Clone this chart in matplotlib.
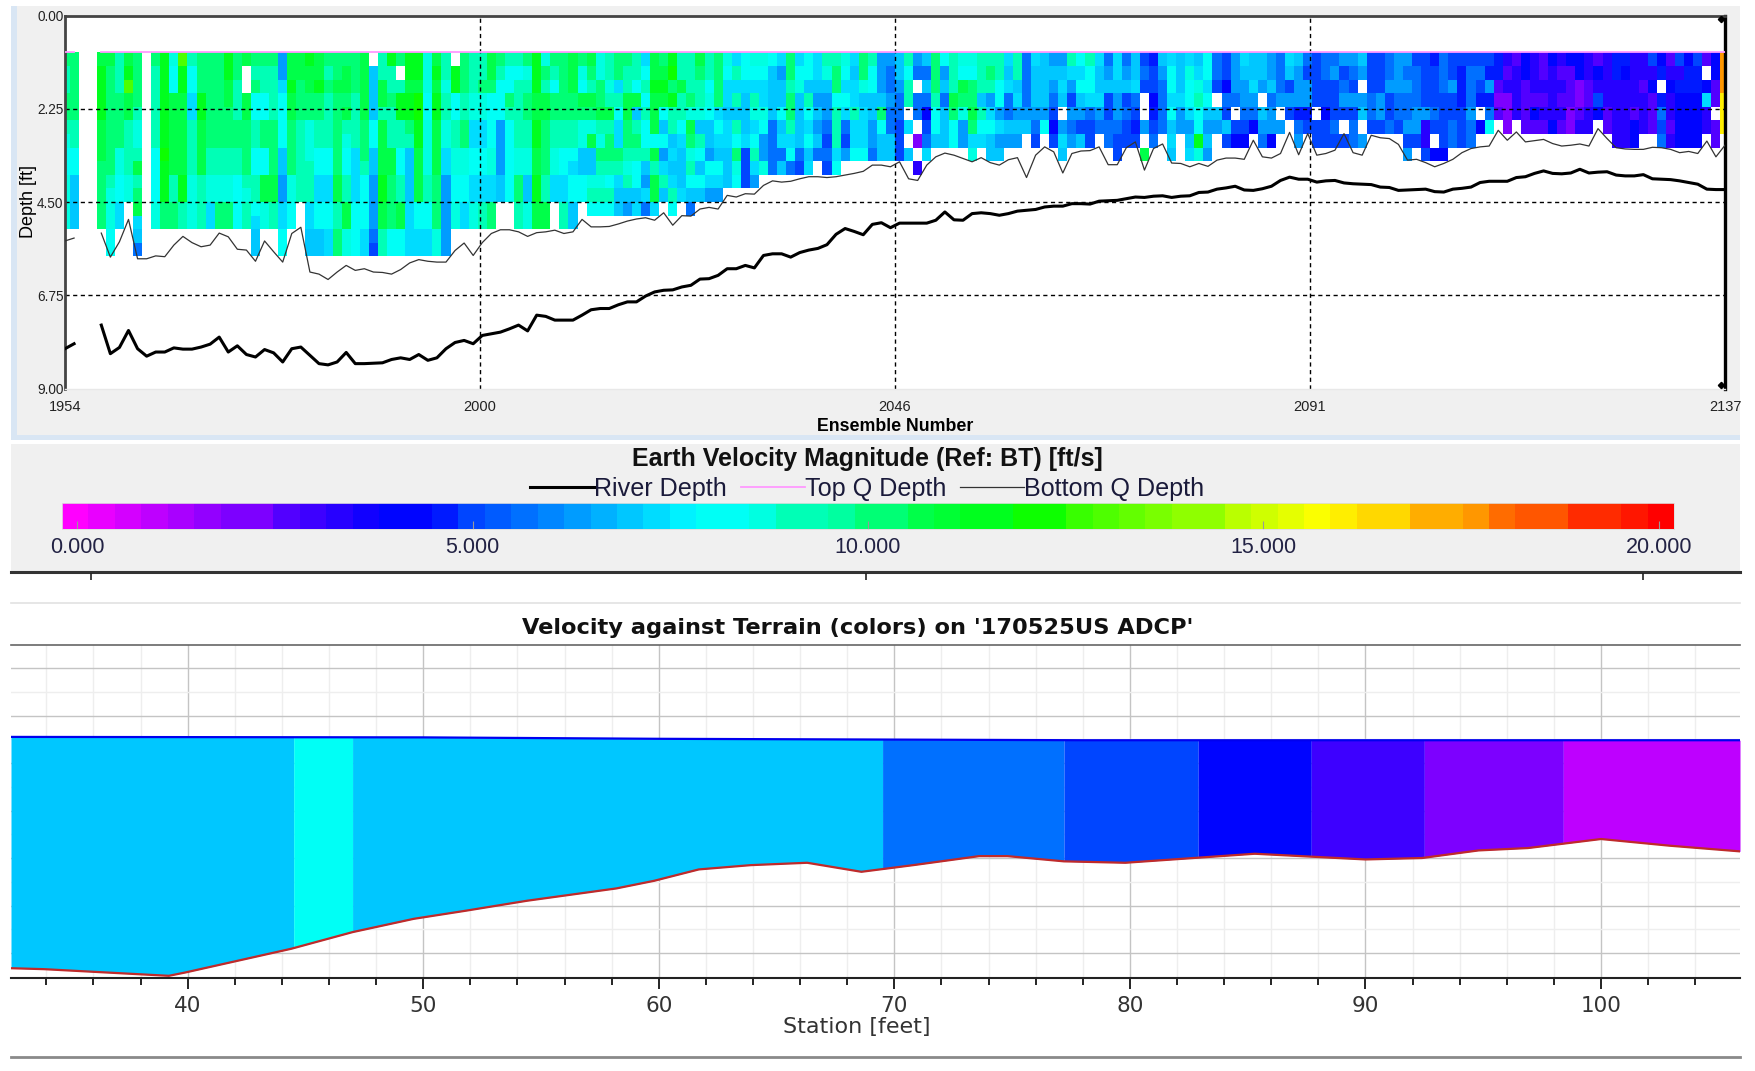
import matplotlib
matplotlib.use('Agg')
import matplotlib.pyplot as plt
import numpy as np
from matplotlib.colors import LinearSegmentedColormap, Normalize
from matplotlib.patches import Rectangle

W, H = 1756, 1071
ARIAL = ['Liberation Sans', 'DejaVu Sans']
WIDE = ['DejaVu Sans']

# velocity read from the colour of a cell, ft/s ('.' = no data)
VEL_CODES = {'P': 2.0, 'V': 2.8, 'I': 3.4, 'B': 4.0, 'b': 4.6, 'D': 5.2, 'M': 5.8, 'm': 6.4,
             's': 7.0, 'c': 7.5, 'C': 8.0, 't': 8.6, 'T': 9.3, 'g': 10.0, 'G': 10.8,
             'L': 11.5, 'l': 12.2, 'Y': 13.0, 'E': 16.0, 'O': 17.4}

# one string per ensemble, top bin first
cells_1954 = [
    "gTTggTtCCtttt", "gggggTTCCssss", "", "", "GLLLLGGGggggg", "GggggggggTtttCC",
    "TTTggggttCCcc", "GLYGGTTTTtt", "ggggTttTGTgGcsM", "", "gTTTTTTCCCCtt", "LLLLLLLlLLLgg",
    "tCCGGGGGGTTgg", "YLLGGGGGGLLTT", "TCCccTTTTtttt", "gggLLGGGGTTTT", "gggggggTTttcc",
    "gggggggTTttgg", "LLGGgggTTttgg", "ggTTTggTTCCCC", "G..GGggggTtTT", "gTgCCTTCCTTCcss",
    "gTTCCggCCGGtt", "gTTTTggggGGTT", "mmcCCCCssmmccCC", "GGLGGggggttCC", "GGgggTTTTTT",
    "LGGggtttTTTccss", "GGLggTTCCccCCss", "gTgTTTTCCccCCcc", "ggGggggggGGTTgg",
]
cells_1985 = [
    "gGGgGTtCCTTGGtt", "gggTTTTccccCCCC", "GGGGGgggTCCCCcc", ".ssssCCssmmmmMD", "TTGGTGGGGLLGGTT",
    "LTTgTTTGGggggCC", "g.TLLTTCCTTGGCC", "LLGLLgTsssscccc", "LLGllLLGGGGCCcc", "tttCCttttTTCCcc",
    "GLGLLGGGGggggtt", "TTtTTttccmmmmmm", ".LLCCTTttCCtt", "gggTTggttCCcc", "TTTttccCCcctt",
    "TTgttccCCccTT", "GGgCCCCttccgg", "gTCCCmmmmss", "TCCgTCCCCCC", "TCTTTTTttggTT",
    "gtTggTTttsstt", "LLLGGLLGGLLGG", "tgTGGggggTTGG", "gTCggTTttcc", "gggggTTCCccTT",
    "GGGggTTCcCCss", "gtCGgttssCC", "GgTGgtGsstTC", "ttggGTtgTtTC", "TTtTGTggTCTC", "ggcTCccgTcss",
]
cells_2016 = [
    "gTTGGggTtTsm", "TTCGsTgTCCsc", "cCTCTCCTsmcM", "GGLGGGCGTGGc", "gGLGCsCmcTs", "LlgLTTscscTC",
    "TTGTTCcsssc", "TTTgtGgtTCsM", "GgTTtsTCsCs", "TTCtCssmCcm", "ggggcCcsCcm", "tCccsccsss",
    "cTcTsTCgtC", "CCcssscDDD", "tCcTtcCTcm", "tCcctCmmt", "CssssMMMM", "cmssCscMs", "ggTggTcCM",
    "cCtssssMD", "CCsTCcCsc", "ccsmsmsM", "TtsmmMDMD", "TggCTTTcC", "tCcCcMDm", "csccTccC",
    "ggtscccC", "TCCssmmM", "mmmsgCss", "mMMmMMss", "ssmMMDDD",
]
cells_2047 = [
    "TCTT.c.s", "mM.MM.P.I", "sMsMBDMc", "gggTCCs", "CmsMsss", "TTTGgCC", "tCGgtmm", "tCggGgct",
    "TTTsTCc", "TgTmcCss", "TTCCmcms", "cscMMsm", "TTscmsm", "MMMMms", "csssmMD", "ssssmC",
    "msmMDBD", "mscs.mcs", "TcmDmMm", "CcCsmDs", "TCCcMDD", "csscmM", "MmsDDMM", "ccsmmMDD",
    "MmsDMDD", "sscMDbD", "DMD..m.G", "bDDBbDM", "smMMMM", "cCCcCscs", "ssscmm",
]
cells_2078 = [
    "ctCCcmsc", "sctTCCLt", "CCcCsmsm", "MMD.sm", "DDBMDsD", "mmmM.DB", "csmmMDB", "sscmMB",
    "ssm.smM", "mmsMmmB", "MMMm.m", "csDmD", "smmmbMm", "MDmmbD", "DDDD.DD", "MMDDBDD", "MmDDDMD",
    "mDMmD.D", "mMDmDMM", "sm.ms.m", "DDDMMD", "DDDmmD", "MMmDDM", "mmmMMD", "mMmMMmDm", "DMMMmmD",
    "DDDDmIID", "bDDDMD.B", "MMMDDDDB", "DDmDDMM", "DbbbDDD",
]
cells_2109 = [
    "DMMMmMM", "DMDb.B", "DbmbMC", "bbVPV", "IVIPPP", "VIIII", "BBVVVV", "IIIVBV", "VVIVIV", "BIIIIB",
    "IVIVIV", "BVVVPP", "BBPPVI", "IIVVII", "VBIDB", "IIIIVV", "bbIIIII", "bBIIIII", "IIIIVBB", "IIVIII",
    "DIBVVV", "Bb.bMDM", "VIBIIVI", "DIbBBBB", "BbbBBBB", "DbbBBBB", "V.BcII", "BBVV.VV", "OOOEEE",
]

nan = float('nan')
bottom_q_depth = [
    5.44, 5.37, nan, nan, 5.25, 5.83, 5.46, 4.92, 5.87, 5.87,
    5.80, 5.82, 5.54, 5.33, 5.48, 5.58, 5.54, 5.25, 5.34, 5.64,
    5.66, 5.93, 5.44, 5.70, 5.95, 5.26, 5.11, 6.19, 6.24, 6.37,
    6.19, 6.03, 6.15, 6.11, 6.19, 6.20, 6.24, 6.13, 5.97, 5.89,
    5.93, 5.95, 5.95, 5.67, 5.49, 5.79, 5.48, 5.26, 5.17, 5.17,
    5.22, 5.33, 5.24, 5.22, 5.18, 5.26, 5.22, 4.92, 5.10, 5.10,
    5.09, 5.03, 4.96, 4.91, 4.88, 4.94, 4.76, 5.06, 4.83, 4.84,
    4.67, 4.63, 4.67, 4.34, 4.38, 4.30, 4.31, 4.10, 3.99, 4.02,
    4.00, 3.94, 3.89, 3.89, 3.91, 3.89, 3.85, 3.81, 3.76, 3.61,
    3.61, 3.65, 3.53, 3.94, 3.98, 3.61, 3.41, 3.32, 3.37, 3.45,
    3.53, 3.43, 3.55, 3.61, 3.48, 3.43, 3.91, 3.37, 3.17, 3.29,
    3.80, 3.33, 3.27, 3.26, 3.17, 3.60, 3.60, 3.19, 3.05, 3.73,
    3.21, 3.10, 3.56, 3.57, 3.65, 3.57, 3.64, 3.49, 3.44, 3.44,
    3.47, 3.01, 3.41, 3.44, 3.33, 2.82, 3.36, 2.85, 3.37, 3.33,
    3.25, 2.85, 3.31, 3.37, 2.89, 2.95, 2.97, 3.11, 3.49, 3.47,
    3.55, 3.65, 3.57, 3.47, 3.31, 3.21, 3.17, 3.15, 2.77, 3.01,
    2.81, 3.05, 3.02, 2.99, 3.09, 3.15, 3.13, 3.10, 3.15, 2.73,
    2.97, 3.19, 3.22, 3.23, 3.23, 3.18, 3.19, 3.23, 3.31, 3.28,
    3.33, 3.03, 3.41, 3.13,
]
river_depth = [
    8.04, 7.92, nan, nan, 7.47, 8.16, 8.01, 7.60, 8.04, 8.22,
    8.12, 8.12, 8.02, 8.05, 8.05, 8.00, 7.93, 7.76, 8.12, 7.97,
    8.18, 8.24, 8.06, 8.14, 8.36, 8.04, 8.00, 8.20, 8.40, 8.43,
    8.36, 8.13, 8.40, 8.40, 8.39, 8.38, 8.30, 8.26, 8.30, 8.18,
    8.32, 8.26, 8.04, 7.89, 7.84, 7.92, 7.72, 7.68, 7.64, 7.56,
    7.47, 7.61, 7.23, 7.26, 7.35, 7.35, 7.35, 7.23, 7.10, 7.07,
    7.07, 6.98, 6.91, 6.91, 6.77, 6.67, 6.63, 6.62, 6.55, 6.51,
    6.36, 6.35, 6.27, 6.11, 6.11, 6.03, 6.09, 5.79, 5.75, 5.75,
    5.83, 5.72, 5.66, 5.62, 5.53, 5.28, 5.14, 5.21, 5.29, 5.04,
    5.00, 5.12, 5.01, 5.01, 5.01, 5.01, 4.94, 4.74, 4.93, 4.94,
    4.78, 4.76, 4.78, 4.82, 4.78, 4.72, 4.70, 4.68, 4.62, 4.60,
    4.60, 4.54, 4.54, 4.55, 4.48, 4.47, 4.46, 4.42, 4.38, 4.39,
    4.36, 4.35, 4.39, 4.36, 4.35, 4.27, 4.26, 4.19, 4.16, 4.12,
    4.21, 4.22, 4.18, 4.12, 3.98, 3.90, 3.95, 3.95, 4.02, 3.99,
    3.98, 4.04, 4.06, 4.07, 4.08, 4.14, 4.15, 4.22, 4.21, 4.20,
    4.19, 4.25, 4.26, 4.19, 4.17, 4.14, 4.03, 4.00, 4.00, 4.00,
    3.91, 3.89, 3.81, 3.75, 3.81, 3.82, 3.80, 3.71, 3.80, 3.78,
    3.77, 3.85, 3.87, 3.87, 3.84, 3.94, 3.95, 3.96, 3.99, 4.03,
    4.07, 4.19, 4.20, 4.20,
]
top_q_depth = 0.89
bin_size = 0.328
depth_ticks = [0.0, 2.25, 4.5, 6.75, 9.0]
ensemble_ticks = [1954, 1999.75, 2045.5, 2091.25, 2137]
ensemble_labels = ['1954', '2000', '2046', '2091', '2137']

cmap_colors = ['#ff00ff', '#0000ff', '#00ffff', '#00ff00', '#ffff00', '#ff0000']
cbar_ticks = [0, 5, 10, 15, 20]
cbar_labels = ['0.000', '5.000', '10.000', '15.000', '20.000']

# lower chart, y is elevation in grid steps
terrain_station = [32.5, 33.9, 39.2, 39.9, 44.4, 47.0, 49.6, 51.8, 54.4, 58.2, 59.8, 61.7, 63.9, 66.3,
                   68.6, 70.8, 73.6, 74.8, 77.2, 79.8, 85.3, 90.0, 92.4, 94.8, 96.9, 100.0, 102.9, 105.9]
terrain_elev = [-0.32, -0.34, -0.48, -0.41, 0.09, 0.44, 0.72, 0.89, 1.10, 1.36, 1.52, 1.76, 1.85, 1.90,
                1.71, 1.85, 2.04, 2.04, 1.93, 1.90, 2.09, 1.97, 2.00, 2.16, 2.21, 2.40, 2.26, 2.14]
water_station = [32.5, 50.0, 60.0, 78.0, 105.9]
water_elev = [4.55, 4.54, 4.51, 4.48, 4.48]
section_edges = [32.5, 44.5, 47.0, 69.5, 77.2, 82.9, 87.7, 92.5, 98.4, 105.9]
section_vel = [7.0, 8.0, 7.0, 5.9, 5.0, 4.0, 3.2, 2.1, 1.2]
station_ticks = [40, 50, 60, 70, 80, 90, 100]


def px_axes(x0, y0, x1, y1):
    return fig.add_axes([x0 / W, 1 - y1 / H, (x1 - x0) / W, (y1 - y0) / H])


cmap = LinearSegmentedColormap.from_list('velocity', cmap_colors, N=60)
norm = Normalize(0, 20)

fig = plt.figure(figsize=(W / 100, H / 100), dpi=100, facecolor='white')

# panel backgrounds and rules, in pixels
bg = fig.add_axes([0, 0, 1, 1])
bg.set_xlim(0, W)
bg.set_ylim(H, 0)
bg.axis('off')
bg.add_patch(Rectangle((11, 6), 1729, 434, color='#d9e6f4', lw=0))
bg.add_patch(Rectangle((17, 6), 1723, 429, color='#f0f0f0', lw=0))
bg.add_patch(Rectangle((11, 444), 1729, 127, color='#f0f0f0', lw=0))
bg.plot([11, 1740], [572, 572], color='#333333', lw=2.2)
bg.vlines([91, 866, 1643], 573, 580, color='#222222', lw=1.2)
bg.plot([11, 1740], [603, 603], color='#e2e2e2', lw=1.2)
bg.plot([11, 1740], [1057, 1057], color='#8a8a8a', lw=2)

# upper chart
all_cells = cells_1954 + cells_1985 + cells_2016 + cells_2047 + cells_2078 + cells_2109
vel = np.array([[VEL_CODES.get(ch, nan) for ch in col.ljust(15, '.')] for col in all_cells]).T
ensembles = np.arange(1954, 2138)
x_edges = np.arange(1953.5, 2138.0)
y_edges = top_q_depth + bin_size * np.arange(16)

ax = px_axes(65, 15.5, 1725, 388.5)
ax.pcolormesh(x_edges, y_edges, np.ma.masked_invalid(vel), cmap=cmap, norm=norm, zorder=1)
ax.set_xlim(1954, 2137)
ax.set_ylim(9, 0)
for d in depth_ticks[1:-1]:
    ax.axhline(d, color='black', lw=1.0, dashes=(3, 2.5), zorder=2)
for e in ensemble_ticks[1:-1]:
    ax.axvline(e, color='black', lw=1.0, dashes=(3, 2.5), zorder=2)
top_line = np.where(np.isnan(river_depth), nan, top_q_depth)
river, = ax.plot(ensembles, river_depth, color='black', lw=2.2, zorder=4, label='River Depth')
top_q, = ax.plot(ensembles, top_line, color='#ff99ff', lw=1.3, zorder=3, label='Top Q Depth')
bottom_q, = ax.plot(ensembles, bottom_q_depth, color='#333333', lw=0.9, zorder=3, label='Bottom Q Depth')
ax.plot([2136.6, 2136.6], [0.08, 8.92], ls='none', marker='D', ms=3.2, color='black', zorder=5)
ax.set_yticks(depth_ticks, [f'{d:.2f}' for d in depth_ticks], family=ARIAL, fontsize=9.8, color='#222222')
ax.set_xticks(ensemble_ticks, ensemble_labels, family=ARIAL, fontsize=10.5, color='#222222')
ax.tick_params(length=0, pad=1)
ax.tick_params(axis='x', pad=8)
ax.set_xlabel('Ensemble Number', family=ARIAL, fontweight='bold', fontsize=12.8, labelpad=3)
ax.set_ylabel('Depth [ft]', family=ARIAL, fontsize=13, labelpad=0)
ax.spines['top'].set(color='#444444', lw=2)
ax.spines['left'].set(color='#444444', lw=2)
ax.spines['bottom'].set(color='#e8e8e8', lw=1)
ax.spines['right'].set(color='black', lw=2.4)

# colour scale
bg.text(867, 459, 'Earth Velocity Magnitude (Ref: BT) [ft/s]', family=ARIAL, fontweight='bold',
        fontsize=18, ha='center', va='center', color='#111111')
fig.legend(handles=[river, top_q, bottom_q], loc='center', bbox_to_anchor=(867 / W, 1 - 489 / H), ncol=3,
           frameon=False, prop={'family': ARIAL, 'size': 18.1}, handlelength=2.55, handletextpad=0,
           columnspacing=0.55, labelcolor='#1a1a3a', borderpad=0)

cax = px_axes(62, 503, 1674, 529)
centers = np.linspace(0, 20, 61)
cax.pcolormesh(np.linspace(-0.19, 20.19, 62), [0, 1], centers[None, :], cmap=cmap, norm=norm)
cax.set_xlim(-0.19, 20.19)
cax.set_yticks([])
cax.set_xticks(cbar_ticks, cbar_labels, family=ARIAL, fontsize=15.5, color='#222244')
cax.tick_params(axis='x', direction='in', length=6, color='#999999', pad=6)
for s in cax.spines.values():
    s.set(color='#dddddd', lw=0.6)

# lower chart
bx = px_axes(11, 645, 1740, 978)
bx.set_xlim(32.5, 105.9)
bx.set_ylim(-0.526, 6.485)
bx.set_xticks(station_ticks)
bx.set_xticks(np.arange(34, 106, 2), minor=True)
bx.set_yticks(np.arange(0, 7))
bx.set_yticks(np.arange(0.5, 6.5, 1), minor=True)
bx.set_axisbelow(True)
bx.grid(True, which='major', color='#c4c4c4', lw=1)
bx.grid(True, which='minor', color='#eeeeee', lw=1)
for i, v in enumerate(section_vel):
    left, right = section_edges[i], section_edges[i + 1]
    inside = [s for s in terrain_station + water_station if left < s < right]
    xs = np.array(sorted(set([left, right] + inside)))
    bx.fill_between(xs, np.interp(xs, terrain_station, terrain_elev), np.interp(xs, water_station, water_elev),
                    color=cmap(norm(v)), lw=0, zorder=2)
bx.plot(water_station, water_elev, color='#0000ee', lw=1.6, zorder=3)
bx.plot(terrain_station, terrain_elev, color='#c02a2a', lw=1.6, zorder=3)
bx.tick_params(axis='y', which='both', length=0, labelleft=False)
bx.tick_params(axis='x', which='major', length=8, width=1.2, pad=5, labelsize=15.5, labelcolor='#333333')
bx.tick_params(axis='x', which='minor', length=5, width=1.2)
for lab in bx.get_xticklabels():
    lab.set_family(WIDE)
bx.set_xlabel('Station [feet]', family=WIDE, fontsize=16, color='#333333', labelpad=1, x=0.489)
for name in ['left', 'right']:
    bx.spines[name].set_visible(False)
bx.spines['top'].set(color='#666666', lw=1.2)
bx.spines['bottom'].set(color='#222222', lw=1.5)
bg.text(858, 628, "Velocity against Terrain (colors) on '170525US ADCP'", family=WIDE, fontweight='bold',
        fontsize=16.2, ha='center', va='center', color='#111111')

fig.savefig('out.png', dpi=100, facecolor='white')
